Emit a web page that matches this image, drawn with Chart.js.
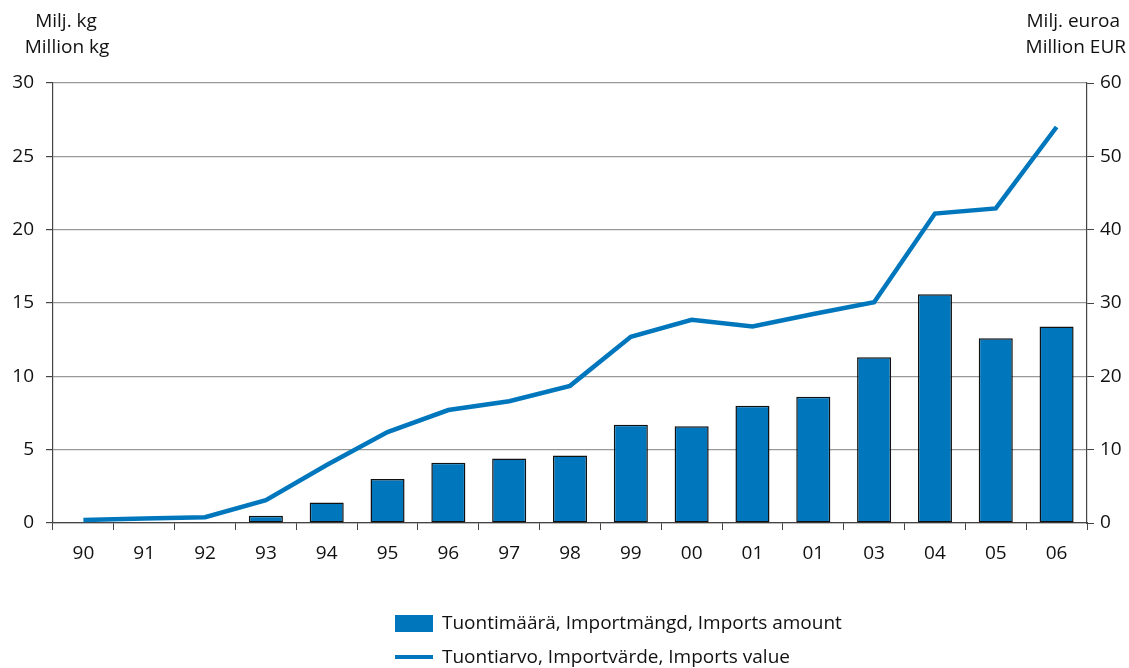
<!DOCTYPE html>
<html>
<head>
<meta charset="utf-8">
<script src="https://cdn.jsdelivr.net/npm/chart.js@4.4.0/dist/chart.umd.min.js"></script>
<style>
  html, body { margin: 0; padding: 0; background: #fff; }
  #wrap { width: 1129px; height: 668px; position: relative; }
</style>
</head>
<body>
<div id="wrap"><canvas id="importChart" width="1129" height="668"></canvas></div>
<script>
'use strict';

// ── Data ──────────────────────────────────────────────
const years       = ['90', '91', '92', '93', '94', '95', '96', '97', '98', '99', '00', '01', '01', '03', '04', '05', '06'];
const amountKg    = [0, 0, 0.05, 0.5, 1.4, 3.0, 4.1, 4.4, 4.6, 6.7, 6.6, 8.0, 8.6, 11.3, 15.6, 12.6, 13.4];
const valueEur    = [0.4, 0.6, 0.8, 3.1, 7.9, 12.4, 15.4, 16.6, 18.7, 25.4, 27.7, 26.8, 28.5, 30.1, 42.2, 42.9, 54.0];
const leftTicks   = [0, 5, 10, 15, 20, 25, 30];
const rightTicks  = [0, 10, 20, 30, 40, 50, 60];
const leftTitle   = ['Milj. kg', 'Million kg'];
const rightTitle  = ['Milj. euroa', 'Million EUR'];
const legendItems = ['Tuontimäärä, Importmängd, Imports amount', 'Tuontiarvo, Importvärde, Imports value'];

const BLUE = '#0077bd';
const FONT = '"Open Sans", "Noto Sans", sans-serif';
const FONT_SIZE = 19;

// ── Titles + legend drawn on canvas ───────────────────
const extras = {
    id: 'extras',
    afterDraw(chart) {
        const ctx = chart.ctx;
        ctx.save();
        ctx.fillStyle = '#111';
        ctx.font = `${FONT_SIZE}px ${FONT}`;
        ctx.textBaseline = 'middle';

        ctx.textAlign = 'center';
        ctx.fillText(leftTitle[0], 66, 22);
        ctx.fillText(leftTitle[1], 67, 48);
        ctx.textAlign = 'right';
        ctx.fillText(rightTitle[0], 1120, 22);
        ctx.fillText(rightTitle[1], 1126, 48);

        // legend
        ctx.textAlign = 'left';
        ctx.fillStyle = BLUE;
        ctx.fillRect(395, 615, 38, 17);
        ctx.fillRect(395, 655, 38, 4);
        ctx.fillStyle = '#111';
        ctx.fillText(legendItems[0], 442, 624);
        ctx.fillText(legendItems[1], 442, 658);
        ctx.restore();
    }
};

const canvas = document.getElementById('importChart');
new Chart(canvas, {
    data: {
        labels: years,
        datasets: [
            {
                type: 'line',
                label: legendItems[1],
                data: valueEur,
                yAxisID: 'yRight',
                borderColor: BLUE,
                borderWidth: 4.5,
                pointRadius: 0,
                tension: 0,
                order: 0,
            },
            {
                type: 'bar',
                label: legendItems[0],
                data: amountKg,
                yAxisID: 'yLeft',
                backgroundColor: BLUE,
                borderColor: '#111',
                borderWidth: 1.5,
                borderSkipped: false,
                categoryPercentage: 0.56,
                barPercentage: 1,
                order: 1,
            }
        ]
    },
    options: {
        responsive: false,
        animation: false,
        layout: { padding: { top: 83, left: 0, right: 0, bottom: 0 } },
        plugins: {
            legend: { display: false },
            tooltip: { enabled: false }
        },
        scales: {
            x: {
                offset: true,
                grid: {
                    offset: true,
                    drawOnChartArea: false,
                    drawTicks: true,
                    tickLength: 7,
                    color: '#444',
                },
                border: { color: '#444', width: 1.2 },
                ticks: {
                    color: '#111',
                    font: { family: FONT, size: FONT_SIZE },
                    padding: 12,
                    maxRotation: 0,
                    autoSkip: false,
                },
                afterFit: (scale) => { scale.height = 668 - 523; }
            },
            yLeft: {
                position: 'left',
                min: 0,
                max: 30,
                afterBuildTicks: (scale) => { scale.ticks = leftTicks.map(v => ({ value: v })); },
                grid: { color: '#999', lineWidth: 1.2, tickLength: 7, tickColor: '#444' },
                border: { color: '#444', width: 1.2 },
                ticks: {
                    color: '#111',
                    font: { family: FONT, size: FONT_SIZE },
                    padding: 12,
                },
                afterFit: (scale) => { scale.width = 53; }
            },
            yRight: {
                position: 'right',
                min: 0,
                max: 60,
                afterBuildTicks: (scale) => { scale.ticks = rightTicks.map(v => ({ value: v })); },
                grid: { drawOnChartArea: false, tickLength: 7, tickColor: '#444' },
                border: { color: '#444', width: 1.2 },
                ticks: {
                    color: '#111',
                    font: { family: FONT, size: FONT_SIZE },
                    padding: 6,
                },
                afterFit: (scale) => { scale.width = 1129 - 1087; }
            }
        }
    },
    plugins: [extras]
});
</script>
</body>
</html>
